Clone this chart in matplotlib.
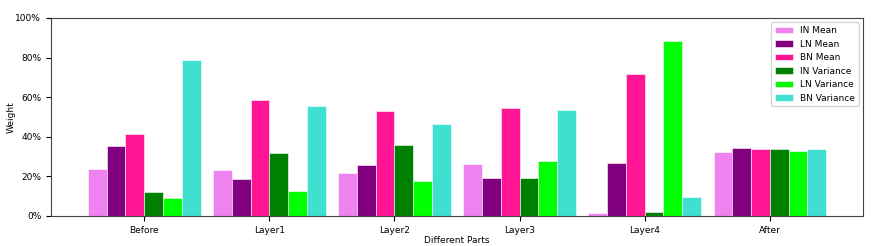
import numpy as np
import matplotlib.pyplot as plt
from matplotlib.ticker import PercentFormatter

parts = ['Before', 'Layer1', 'Layer2', 'Layer3', 'Layer4', 'After']
series = ['IN Mean', 'LN Mean', 'BN Mean', 'IN Variance', 'LN Variance', 'BN Variance']

in_mean = [23.7, 23.2, 21.6, 26.5, 1.4, 32.4]
ln_mean = [35.2, 18.6, 25.7, 19.1, 27.0, 34.3]
bn_mean = [41.4, 58.5, 52.9, 54.4, 71.9, 33.6]
in_var = [11.9, 31.9, 35.7, 19.1, 2.2, 33.8]
ln_var = [9.1, 12.7, 17.9, 27.6, 88.5, 32.6]
bn_var = [79.0, 55.6, 46.6, 53.4, 9.5, 33.8]

colors = ['violet', 'purple', 'deeppink', 'green', 'lime', 'turquoise']

plt.rcParams['font.size'] = 6.5

fig = plt.figure(figsize=(8.72, 2.46), dpi=100)
ax = fig.add_axes([0.0585, 0.122, 0.9312, 0.805])

x = np.arange(len(parts))
w = 0.15
for i, vals in enumerate([in_mean, ln_mean, bn_mean, in_var, ln_var, bn_var]):
    ax.bar(x + (i - 2.5) * w, vals, w, color=colors[i], label=series[i],
           edgecolor='white', linewidth=0.4)

ax.set_xticks(x)
ax.set_xticklabels(parts)
ax.set_ylim(0, 100)
ax.set_yticks([0, 20, 40, 60, 80, 100])
ax.yaxis.set_major_formatter(PercentFormatter(decimals=0))
ax.set_xlabel('Different Parts', labelpad=1)
ax.set_ylabel('Weight', labelpad=0)
for s in ax.spines.values():
    s.set_color('#444444')
ax.legend(loc='upper right')

fig.savefig('out.png', dpi=100)
